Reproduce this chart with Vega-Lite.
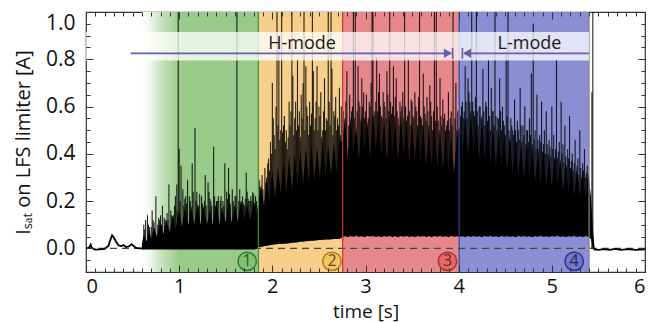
{
  "$schema": "https://vega.github.io/schema/vega-lite/v6.json",
  "width": 559,
  "height": 260,
  "autosize": {"type": "none"},
  "padding": {"left": 86, "top": 12, "right": 5, "bottom": 50},
  "background": "white",
  "config": {
    "view": {"stroke": "#333333", "strokeWidth": 1.2},
    "font": "Open Sans",
    "axis": {"grid": false, "labelColor": "#111111", "titleColor": "#111111", "tickColor": "#333333", "labelFont": "Open Sans", "titleFont": "Open Sans"}
  },
  "datasets": {
    "zones": [
      {"z": "1", "a": 0.6, "b": 1.85},
      {"z": "2", "a": 1.85, "b": 2.75},
      {"z": "3", "a": 2.75, "b": 4.0},
      {"z": "4", "a": 4.0, "b": 5.4}
    ],
    "bounds": [
      {"t": 1.85, "k": "1"},
      {"t": 2.755, "k": "3"},
      {"t": 4.005, "k": "4"},
      {"t": 5.4, "k": "5"}
    ],
    "core": [
      {"t": 0.60, "lo": -0.005, "hi": 0.02}, {"t": 0.62, "lo": -0.005, "hi": 0.06}, {"t": 0.65, "lo": -0.005, "hi": 0.03}, {"t": 0.68, "lo": -0.005, "hi": 0.08},
      {"t": 0.70, "lo": -0.005, "hi": 0.04}, {"t": 0.73, "lo": -0.005, "hi": 0.09}, {"t": 0.76, "lo": -0.005, "hi": 0.05}, {"t": 0.80, "lo": -0.005, "hi": 0.11},
      {"t": 0.83, "lo": -0.005, "hi": 0.06}, {"t": 0.86, "lo": -0.005, "hi": 0.12}, {"t": 0.90, "lo": -0.005, "hi": 0.07}, {"t": 0.93, "lo": -0.005, "hi": 0.14},
      {"t": 0.96, "lo": -0.005, "hi": 0.08}, {"t": 1.00, "lo": -0.005, "hi": 0.16}, {"t": 1.03, "lo": -0.005, "hi": 0.09}, {"t": 1.06, "lo": -0.005, "hi": 0.17},
      {"t": 1.10, "lo": -0.005, "hi": 0.10}, {"t": 1.13, "lo": -0.005, "hi": 0.18}, {"t": 1.16, "lo": -0.005, "hi": 0.10}, {"t": 1.20, "lo": -0.005, "hi": 0.19},
      {"t": 1.23, "lo": -0.005, "hi": 0.10}, {"t": 1.26, "lo": -0.005, "hi": 0.18}, {"t": 1.30, "lo": -0.005, "hi": 0.10}, {"t": 1.33, "lo": -0.005, "hi": 0.17},
      {"t": 1.36, "lo": -0.005, "hi": 0.10}, {"t": 1.40, "lo": -0.005, "hi": 0.19}, {"t": 1.43, "lo": -0.005, "hi": 0.10}, {"t": 1.46, "lo": -0.005, "hi": 0.17},
      {"t": 1.50, "lo": -0.005, "hi": 0.11}, {"t": 1.53, "lo": -0.005, "hi": 0.19}, {"t": 1.56, "lo": -0.005, "hi": 0.11}, {"t": 1.60, "lo": -0.005, "hi": 0.18},
      {"t": 1.63, "lo": -0.005, "hi": 0.11}, {"t": 1.66, "lo": -0.005, "hi": 0.20}, {"t": 1.70, "lo": -0.005, "hi": 0.12}, {"t": 1.73, "lo": -0.005, "hi": 0.19},
      {"t": 1.76, "lo": -0.005, "hi": 0.12}, {"t": 1.80, "lo": -0.005, "hi": 0.20}, {"t": 1.83, "lo": -0.003, "hi": 0.14},
      {"t": 1.85, "lo": 0.005, "hi": 0.20}, {"t": 1.88, "lo": 0.007, "hi": 0.27}, {"t": 1.91, "lo": 0.009, "hi": 0.18}, {"t": 1.94, "lo": 0.011, "hi": 0.30},
      {"t": 1.97, "lo": 0.013, "hi": 0.20}, {"t": 2.00, "lo": 0.015, "hi": 0.33}, {"t": 2.03, "lo": 0.017, "hi": 0.21}, {"t": 2.06, "lo": 0.018, "hi": 0.35},
      {"t": 2.09, "lo": 0.019, "hi": 0.23}, {"t": 2.12, "lo": 0.020, "hi": 0.37}, {"t": 2.15, "lo": 0.021, "hi": 0.24}, {"t": 2.18, "lo": 0.022, "hi": 0.39},
      {"t": 2.21, "lo": 0.024, "hi": 0.25}, {"t": 2.24, "lo": 0.025, "hi": 0.40}, {"t": 2.27, "lo": 0.026, "hi": 0.26}, {"t": 2.30, "lo": 0.028, "hi": 0.42},
      {"t": 2.33, "lo": 0.029, "hi": 0.27}, {"t": 2.36, "lo": 0.030, "hi": 0.43}, {"t": 2.39, "lo": 0.031, "hi": 0.28}, {"t": 2.42, "lo": 0.032, "hi": 0.44},
      {"t": 2.45, "lo": 0.033, "hi": 0.29}, {"t": 2.48, "lo": 0.034, "hi": 0.43}, {"t": 2.51, "lo": 0.035, "hi": 0.30}, {"t": 2.54, "lo": 0.036, "hi": 0.45},
      {"t": 2.57, "lo": 0.037, "hi": 0.30}, {"t": 2.60, "lo": 0.038, "hi": 0.44}, {"t": 2.63, "lo": 0.039, "hi": 0.31}, {"t": 2.66, "lo": 0.040, "hi": 0.45},
      {"t": 2.69, "lo": 0.040, "hi": 0.32}, {"t": 2.72, "lo": 0.041, "hi": 0.46},
      {"t": 2.75, "lo": 0.048, "hi": 0.45}, {"t": 2.78, "lo": 0.052, "hi": 0.55}, {"t": 2.81, "lo": 0.047, "hi": 0.38}, {"t": 2.84, "lo": 0.053, "hi": 0.56},
      {"t": 2.87, "lo": 0.049, "hi": 0.40}, {"t": 2.90, "lo": 0.054, "hi": 0.52}, {"t": 2.93, "lo": 0.048, "hi": 0.37}, {"t": 2.96, "lo": 0.052, "hi": 0.57},
      {"t": 2.99, "lo": 0.047, "hi": 0.41}, {"t": 3.02, "lo": 0.053, "hi": 0.54}, {"t": 3.05, "lo": 0.050, "hi": 0.38}, {"t": 3.08, "lo": 0.055, "hi": 0.58},
      {"t": 3.11, "lo": 0.048, "hi": 0.42}, {"t": 3.14, "lo": 0.052, "hi": 0.55}, {"t": 3.17, "lo": 0.047, "hi": 0.39}, {"t": 3.20, "lo": 0.053, "hi": 0.54},
      {"t": 3.23, "lo": 0.049, "hi": 0.37}, {"t": 3.26, "lo": 0.054, "hi": 0.57}, {"t": 3.29, "lo": 0.048, "hi": 0.40}, {"t": 3.32, "lo": 0.052, "hi": 0.53},
      {"t": 3.35, "lo": 0.047, "hi": 0.37}, {"t": 3.38, "lo": 0.053, "hi": 0.56}, {"t": 3.41, "lo": 0.049, "hi": 0.39}, {"t": 3.44, "lo": 0.054, "hi": 0.53},
      {"t": 3.47, "lo": 0.048, "hi": 0.36}, {"t": 3.50, "lo": 0.052, "hi": 0.54}, {"t": 3.53, "lo": 0.047, "hi": 0.38}, {"t": 3.56, "lo": 0.053, "hi": 0.52},
      {"t": 3.59, "lo": 0.049, "hi": 0.36}, {"t": 3.62, "lo": 0.054, "hi": 0.53}, {"t": 3.65, "lo": 0.048, "hi": 0.35}, {"t": 3.68, "lo": 0.052, "hi": 0.51},
      {"t": 3.71, "lo": 0.047, "hi": 0.35}, {"t": 3.74, "lo": 0.053, "hi": 0.52}, {"t": 3.77, "lo": 0.049, "hi": 0.34}, {"t": 3.80, "lo": 0.054, "hi": 0.50},
      {"t": 3.83, "lo": 0.048, "hi": 0.33}, {"t": 3.86, "lo": 0.052, "hi": 0.49}, {"t": 3.89, "lo": 0.047, "hi": 0.33}, {"t": 3.92, "lo": 0.053, "hi": 0.48},
      {"t": 3.95, "lo": 0.049, "hi": 0.32}, {"t": 3.98, "lo": 0.052, "hi": 0.47},
      {"t": 4.01, "lo": 0.048, "hi": 0.52}, {"t": 4.04, "lo": 0.052, "hi": 0.38}, {"t": 4.07, "lo": 0.047, "hi": 0.56}, {"t": 4.10, "lo": 0.053, "hi": 0.39},
      {"t": 4.13, "lo": 0.049, "hi": 0.57}, {"t": 4.16, "lo": 0.054, "hi": 0.40}, {"t": 4.19, "lo": 0.048, "hi": 0.54}, {"t": 4.22, "lo": 0.052, "hi": 0.37},
      {"t": 4.25, "lo": 0.047, "hi": 0.55}, {"t": 4.28, "lo": 0.053, "hi": 0.38}, {"t": 4.31, "lo": 0.049, "hi": 0.53}, {"t": 4.34, "lo": 0.054, "hi": 0.36},
      {"t": 4.37, "lo": 0.048, "hi": 0.52}, {"t": 4.40, "lo": 0.052, "hi": 0.35}, {"t": 4.43, "lo": 0.047, "hi": 0.50}, {"t": 4.46, "lo": 0.053, "hi": 0.34},
      {"t": 4.49, "lo": 0.049, "hi": 0.49}, {"t": 4.52, "lo": 0.054, "hi": 0.33}, {"t": 4.55, "lo": 0.048, "hi": 0.48}, {"t": 4.58, "lo": 0.052, "hi": 0.31},
      {"t": 4.61, "lo": 0.047, "hi": 0.47}, {"t": 4.64, "lo": 0.053, "hi": 0.30}, {"t": 4.67, "lo": 0.049, "hi": 0.45}, {"t": 4.70, "lo": 0.054, "hi": 0.29},
      {"t": 4.73, "lo": 0.048, "hi": 0.44}, {"t": 4.76, "lo": 0.052, "hi": 0.29}, {"t": 4.79, "lo": 0.047, "hi": 0.43}, {"t": 4.82, "lo": 0.053, "hi": 0.28},
      {"t": 4.85, "lo": 0.049, "hi": 0.42}, {"t": 4.88, "lo": 0.054, "hi": 0.27}, {"t": 4.91, "lo": 0.048, "hi": 0.41}, {"t": 4.94, "lo": 0.052, "hi": 0.26},
      {"t": 4.97, "lo": 0.047, "hi": 0.40}, {"t": 5.00, "lo": 0.053, "hi": 0.26}, {"t": 5.03, "lo": 0.049, "hi": 0.39}, {"t": 5.06, "lo": 0.054, "hi": 0.25},
      {"t": 5.09, "lo": 0.048, "hi": 0.38}, {"t": 5.12, "lo": 0.052, "hi": 0.24}, {"t": 5.15, "lo": 0.047, "hi": 0.37}, {"t": 5.18, "lo": 0.053, "hi": 0.23},
      {"t": 5.21, "lo": 0.049, "hi": 0.35}, {"t": 5.24, "lo": 0.054, "hi": 0.22}, {"t": 5.27, "lo": 0.048, "hi": 0.34}, {"t": 5.30, "lo": 0.052, "hi": 0.22},
      {"t": 5.33, "lo": 0.047, "hi": 0.33}, {"t": 5.36, "lo": 0.053, "hi": 0.21}, {"t": 5.39, "lo": 0.049, "hi": 0.32}, {"t": 5.42, "lo": 0.040, "hi": 0.22},
      {"t": 5.44, "lo": 0.0, "hi": 0.08}, {"t": 5.46, "lo": -0.01, "hi": 0.0}
    ],
    "spikes": [
      {"t": 0.62, "lo": 0.0, "hi": 0.10}, {"t": 0.64, "lo": 0.0, "hi": 0.12}, {"t": 0.66, "lo": 0.0, "hi": 0.14}, {"t": 0.68, "lo": 0.0, "hi": 0.09},
      {"t": 0.71, "lo": 0.0, "hi": 0.16}, {"t": 0.73, "lo": 0.0, "hi": 0.11}, {"t": 0.75, "lo": 0.0, "hi": 0.22}, {"t": 0.78, "lo": 0.0, "hi": 0.13},
      {"t": 0.80, "lo": 0.0, "hi": 0.14}, {"t": 0.82, "lo": 0.0, "hi": 0.18}, {"t": 0.85, "lo": 0.0, "hi": 0.12}, {"t": 0.87, "lo": 0.0, "hi": 0.15},
      {"t": 0.89, "lo": 0.0, "hi": 0.27}, {"t": 0.91, "lo": 0.0, "hi": 0.16}, {"t": 0.94, "lo": 0.0, "hi": 0.14}, {"t": 0.96, "lo": 0.0, "hi": 0.22},
      {"t": 0.975, "lo": 0.0, "hi": 0.27}, {"t": 0.99, "lo": 0.0, "hi": 1.0}, {"t": 1.00, "lo": 0.0, "hi": 0.42}, {"t": 1.02, "lo": 0.0, "hi": 0.35},
      {"t": 1.04, "lo": 0.0, "hi": 0.25}, {"t": 1.06, "lo": 0.0, "hi": 0.21}, {"t": 1.09, "lo": 0.0, "hi": 0.29}, {"t": 1.11, "lo": 0.0, "hi": 0.22},
      {"t": 1.14, "lo": 0.0, "hi": 0.36}, {"t": 1.17, "lo": 0.0, "hi": 0.51}, {"t": 1.19, "lo": 0.0, "hi": 0.24}, {"t": 1.22, "lo": 0.0, "hi": 0.23},
      {"t": 1.25, "lo": 0.0, "hi": 0.19}, {"t": 1.28, "lo": 0.0, "hi": 0.31}, {"t": 1.31, "lo": 0.0, "hi": 0.28}, {"t": 1.33, "lo": 0.0, "hi": 0.21},
      {"t": 1.35, "lo": 0.0, "hi": 0.18}, {"t": 1.37, "lo": 0.0, "hi": 0.43}, {"t": 1.40, "lo": 0.0, "hi": 0.20}, {"t": 1.42, "lo": 0.0, "hi": 0.22},
      {"t": 1.44, "lo": 0.0, "hi": 0.20}, {"t": 1.46, "lo": 0.0, "hi": 0.17}, {"t": 1.49, "lo": 0.0, "hi": 0.36}, {"t": 1.51, "lo": 0.0, "hi": 0.24},
      {"t": 1.53, "lo": 0.0, "hi": 0.34}, {"t": 1.55, "lo": 0.0, "hi": 0.19}, {"t": 1.57, "lo": 0.0, "hi": 0.25}, {"t": 1.60, "lo": 0.0, "hi": 0.22},
      {"t": 1.62, "lo": 0.0, "hi": 1.0}, {"t": 1.65, "lo": 0.0, "hi": 0.25}, {"t": 1.67, "lo": 0.0, "hi": 0.20}, {"t": 1.70, "lo": 0.0, "hi": 0.18},
      {"t": 1.72, "lo": 0.0, "hi": 0.32}, {"t": 1.74, "lo": 0.0, "hi": 0.21}, {"t": 1.76, "lo": 0.0, "hi": 0.20}, {"t": 1.79, "lo": 0.0, "hi": 0.24},
      {"t": 1.82, "lo": 0.0, "hi": 0.22},
      {"t": 0.63, "lo": 0.0, "hi": 0.08}, {"t": 0.67, "lo": 0.0, "hi": 0.10}, {"t": 0.70, "lo": 0.0, "hi": 0.09}, {"t": 0.72, "lo": 0.0, "hi": 0.12},
      {"t": 0.77, "lo": 0.0, "hi": 0.10}, {"t": 0.79, "lo": 0.0, "hi": 0.12}, {"t": 0.81, "lo": 0.0, "hi": 0.10}, {"t": 0.84, "lo": 0.0, "hi": 0.13},
      {"t": 0.88, "lo": 0.0, "hi": 0.12}, {"t": 0.92, "lo": 0.0, "hi": 0.14}, {"t": 0.95, "lo": 0.0, "hi": 0.18}, {"t": 0.98, "lo": 0.0, "hi": 0.16},
      {"t": 1.01, "lo": 0.0, "hi": 0.20}, {"t": 1.05, "lo": 0.0, "hi": 0.18}, {"t": 1.07, "lo": 0.0, "hi": 0.22}, {"t": 1.08, "lo": 0.0, "hi": 0.19},
      {"t": 1.12, "lo": 0.0, "hi": 0.20}, {"t": 1.15, "lo": 0.0, "hi": 0.24}, {"t": 1.18, "lo": 0.0, "hi": 0.20}, {"t": 1.21, "lo": 0.0, "hi": 0.18},
      {"t": 1.24, "lo": 0.0, "hi": 0.22}, {"t": 1.27, "lo": 0.0, "hi": 0.20}, {"t": 1.29, "lo": 0.0, "hi": 0.18}, {"t": 1.32, "lo": 0.0, "hi": 0.24},
      {"t": 1.34, "lo": 0.0, "hi": 0.20}, {"t": 1.38, "lo": 0.0, "hi": 0.22}, {"t": 1.39, "lo": 0.0, "hi": 0.18}, {"t": 1.41, "lo": 0.0, "hi": 0.20},
      {"t": 1.45, "lo": 0.0, "hi": 0.22}, {"t": 1.47, "lo": 0.0, "hi": 0.20}, {"t": 1.48, "lo": 0.0, "hi": 0.18}, {"t": 1.52, "lo": 0.0, "hi": 0.21},
      {"t": 1.54, "lo": 0.0, "hi": 0.23}, {"t": 1.58, "lo": 0.0, "hi": 0.20}, {"t": 1.59, "lo": 0.0, "hi": 0.18}, {"t": 1.61, "lo": 0.0, "hi": 0.22},
      {"t": 1.64, "lo": 0.0, "hi": 0.20}, {"t": 1.68, "lo": 0.0, "hi": 0.22}, {"t": 1.69, "lo": 0.0, "hi": 0.19}, {"t": 1.71, "lo": 0.0, "hi": 0.21},
      {"t": 1.73, "lo": 0.0, "hi": 0.24}, {"t": 1.75, "lo": 0.0, "hi": 0.20}, {"t": 1.77, "lo": 0.0, "hi": 0.22}, {"t": 1.78, "lo": 0.0, "hi": 0.20},
      {"t": 1.80, "lo": 0.0, "hi": 0.23}, {"t": 1.81, "lo": 0.0, "hi": 0.19}, {"t": 1.83, "lo": 0.0, "hi": 0.20},
      {"t": 1.86, "lo": 0.006, "hi": 0.29}, {"t": 1.88, "lo": 0.007, "hi": 0.22}, {"t": 1.90, "lo": 0.008, "hi": 0.25}, {"t": 1.92, "lo": 0.01, "hi": 0.34},
      {"t": 1.94, "lo": 0.011, "hi": 0.30}, {"t": 1.96, "lo": 0.012, "hi": 0.38}, {"t": 1.98, "lo": 0.014, "hi": 0.45}, {"t": 2.00, "lo": 0.015, "hi": 0.70},
      {"t": 2.02, "lo": 0.016, "hi": 0.48}, {"t": 2.04, "lo": 0.017, "hi": 0.60}, {"t": 2.05, "lo": 0.017, "hi": 1.0}, {"t": 2.07, "lo": 0.018, "hi": 0.86},
      {"t": 2.09, "lo": 0.019, "hi": 0.50}, {"t": 2.10, "lo": 0.019, "hi": 1.0}, {"t": 2.12, "lo": 0.02, "hi": 0.52}, {"t": 2.14, "lo": 0.021, "hi": 0.45},
      {"t": 2.16, "lo": 0.021, "hi": 0.42}, {"t": 2.18, "lo": 0.022, "hi": 0.62}, {"t": 2.21, "lo": 0.024, "hi": 1.0}, {"t": 2.22, "lo": 0.024, "hi": 0.73},
      {"t": 2.24, "lo": 0.025, "hi": 0.55}, {"t": 2.26, "lo": 0.026, "hi": 0.50}, {"t": 2.27, "lo": 0.026, "hi": 0.80}, {"t": 2.29, "lo": 0.027, "hi": 0.58},
      {"t": 2.31, "lo": 0.028, "hi": 0.65}, {"t": 2.33, "lo": 0.029, "hi": 0.70}, {"t": 2.34, "lo": 0.029, "hi": 1.0}, {"t": 2.36, "lo": 0.03, "hi": 0.77},
      {"t": 2.38, "lo": 0.031, "hi": 0.56}, {"t": 2.40, "lo": 0.031, "hi": 0.62}, {"t": 2.43, "lo": 0.032, "hi": 1.0}, {"t": 2.44, "lo": 0.033, "hi": 0.75},
      {"t": 2.46, "lo": 0.033, "hi": 0.55}, {"t": 2.48, "lo": 0.034, "hi": 0.77}, {"t": 2.50, "lo": 0.035, "hi": 0.60}, {"t": 2.52, "lo": 0.035, "hi": 0.66},
      {"t": 2.54, "lo": 0.036, "hi": 0.50}, {"t": 2.56, "lo": 0.037, "hi": 0.72}, {"t": 2.58, "lo": 0.037, "hi": 0.55}, {"t": 2.60, "lo": 0.038, "hi": 1.0},
      {"t": 2.61, "lo": 0.038, "hi": 0.62}, {"t": 2.63, "lo": 0.039, "hi": 1.0}, {"t": 2.64, "lo": 0.039, "hi": 0.76}, {"t": 2.66, "lo": 0.04, "hi": 0.58},
      {"t": 2.68, "lo": 0.04, "hi": 0.64}, {"t": 2.70, "lo": 0.04, "hi": 0.55}, {"t": 2.72, "lo": 0.041, "hi": 0.68}, {"t": 2.74, "lo": 0.042, "hi": 0.60},
      {"t": 1.87, "lo": 0.1, "hi": 0.26}, {"t": 1.89, "lo": 0.1, "hi": 0.31}, {"t": 1.93, "lo": 0.1, "hi": 0.28}, {"t": 1.95, "lo": 0.1, "hi": 0.36},
      {"t": 1.97, "lo": 0.1, "hi": 0.33}, {"t": 1.99, "lo": 0.1, "hi": 0.40}, {"t": 2.01, "lo": 0.1, "hi": 0.55}, {"t": 2.03, "lo": 0.1, "hi": 0.42},
      {"t": 2.06, "lo": 0.1, "hi": 0.52}, {"t": 2.08, "lo": 0.1, "hi": 0.46}, {"t": 2.11, "lo": 0.1, "hi": 0.49}, {"t": 2.13, "lo": 0.1, "hi": 0.56},
      {"t": 2.15, "lo": 0.1, "hi": 0.50}, {"t": 2.17, "lo": 0.1, "hi": 0.47}, {"t": 2.19, "lo": 0.1, "hi": 0.52}, {"t": 2.20, "lo": 0.1, "hi": 0.58},
      {"t": 2.23, "lo": 0.1, "hi": 0.48}, {"t": 2.25, "lo": 0.1, "hi": 0.62}, {"t": 2.28, "lo": 0.1, "hi": 0.52}, {"t": 2.30, "lo": 0.1, "hi": 0.47},
      {"t": 2.32, "lo": 0.1, "hi": 0.55}, {"t": 2.35, "lo": 0.1, "hi": 0.50}, {"t": 2.37, "lo": 0.1, "hi": 0.60}, {"t": 2.39, "lo": 0.1, "hi": 0.48},
      {"t": 2.41, "lo": 0.1, "hi": 0.52}, {"t": 2.42, "lo": 0.1, "hi": 0.57}, {"t": 2.45, "lo": 0.1, "hi": 0.50}, {"t": 2.47, "lo": 0.1, "hi": 0.62},
      {"t": 2.49, "lo": 0.1, "hi": 0.50}, {"t": 2.51, "lo": 0.1, "hi": 0.56}, {"t": 2.53, "lo": 0.1, "hi": 0.47}, {"t": 2.55, "lo": 0.1, "hi": 0.58},
      {"t": 2.57, "lo": 0.1, "hi": 0.50}, {"t": 2.59, "lo": 0.1, "hi": 0.54}, {"t": 2.62, "lo": 0.1, "hi": 0.52}, {"t": 2.65, "lo": 0.1, "hi": 0.48},
      {"t": 2.67, "lo": 0.1, "hi": 0.56}, {"t": 2.69, "lo": 0.1, "hi": 0.50}, {"t": 2.71, "lo": 0.1, "hi": 0.52}, {"t": 2.73, "lo": 0.1, "hi": 0.48},
      {"t": 2.78, "lo": 0.05, "hi": 0.55}, {"t": 2.80, "lo": 0.05, "hi": 0.75}, {"t": 2.83, "lo": 0.05, "hi": 0.65}, {"t": 2.85, "lo": 0.05, "hi": 0.58},
      {"t": 2.87, "lo": 0.05, "hi": 1.0}, {"t": 2.89, "lo": 0.05, "hi": 1.0}, {"t": 2.92, "lo": 0.05, "hi": 0.77}, {"t": 2.94, "lo": 0.05, "hi": 0.60},
      {"t": 2.96, "lo": 0.05, "hi": 0.72}, {"t": 2.99, "lo": 0.05, "hi": 0.55}, {"t": 3.01, "lo": 0.05, "hi": 0.65}, {"t": 3.04, "lo": 0.05, "hi": 0.62},
      {"t": 3.07, "lo": 0.05, "hi": 1.0}, {"t": 3.08, "lo": 0.05, "hi": 1.0}, {"t": 3.10, "lo": 0.05, "hi": 0.58}, {"t": 3.12, "lo": 0.05, "hi": 0.81},
      {"t": 3.15, "lo": 0.05, "hi": 0.74}, {"t": 3.17, "lo": 0.05, "hi": 0.56}, {"t": 3.19, "lo": 0.05, "hi": 0.66}, {"t": 3.21, "lo": 0.05, "hi": 0.60},
      {"t": 3.23, "lo": 0.05, "hi": 0.75}, {"t": 3.26, "lo": 0.05, "hi": 1.0}, {"t": 3.28, "lo": 0.05, "hi": 0.57}, {"t": 3.30, "lo": 0.05, "hi": 0.77},
      {"t": 3.33, "lo": 0.05, "hi": 0.72}, {"t": 3.35, "lo": 0.05, "hi": 0.55}, {"t": 3.37, "lo": 0.05, "hi": 0.62}, {"t": 3.39, "lo": 0.05, "hi": 0.60},
      {"t": 3.42, "lo": 0.05, "hi": 1.0}, {"t": 3.44, "lo": 0.05, "hi": 0.54}, {"t": 3.46, "lo": 0.05, "hi": 0.80}, {"t": 3.49, "lo": 0.05, "hi": 0.63},
      {"t": 3.51, "lo": 0.05, "hi": 0.56}, {"t": 3.53, "lo": 0.05, "hi": 0.66}, {"t": 3.55, "lo": 0.05, "hi": 0.58}, {"t": 3.58, "lo": 0.05, "hi": 1.0},
      {"t": 3.60, "lo": 0.05, "hi": 0.55}, {"t": 3.62, "lo": 0.05, "hi": 0.74}, {"t": 3.64, "lo": 0.05, "hi": 0.57}, {"t": 3.66, "lo": 0.05, "hi": 0.64},
      {"t": 3.69, "lo": 0.05, "hi": 0.69}, {"t": 3.71, "lo": 0.05, "hi": 0.56}, {"t": 3.74, "lo": 0.05, "hi": 1.0}, {"t": 3.76, "lo": 0.05, "hi": 1.0},
      {"t": 3.78, "lo": 0.05, "hi": 0.54}, {"t": 3.80, "lo": 0.05, "hi": 0.72}, {"t": 3.83, "lo": 0.05, "hi": 0.63}, {"t": 3.85, "lo": 0.05, "hi": 0.57},
      {"t": 3.87, "lo": 0.05, "hi": 0.52}, {"t": 3.89, "lo": 0.05, "hi": 0.66}, {"t": 3.91, "lo": 0.05, "hi": 0.55}, {"t": 3.94, "lo": 0.05, "hi": 1.0},
      {"t": 3.97, "lo": 0.05, "hi": 0.70}, {"t": 3.99, "lo": 0.05, "hi": 0.58},
      {"t": 2.76, "lo": 0.1, "hi": 0.58}, {"t": 2.79, "lo": 0.1, "hi": 0.62}, {"t": 2.82, "lo": 0.1, "hi": 0.52}, {"t": 2.86, "lo": 0.1, "hi": 0.60},
      {"t": 2.88, "lo": 0.1, "hi": 0.55}, {"t": 2.91, "lo": 0.1, "hi": 0.58}, {"t": 2.93, "lo": 0.1, "hi": 0.62}, {"t": 2.95, "lo": 0.1, "hi": 0.54},
      {"t": 2.97, "lo": 0.1, "hi": 0.60}, {"t": 2.98, "lo": 0.1, "hi": 0.66}, {"t": 3.00, "lo": 0.1, "hi": 0.58}, {"t": 3.03, "lo": 0.1, "hi": 0.55},
      {"t": 3.05, "lo": 0.1, "hi": 0.60}, {"t": 3.06, "lo": 0.1, "hi": 0.70}, {"t": 3.09, "lo": 0.1, "hi": 0.56}, {"t": 3.11, "lo": 0.1, "hi": 0.62},
      {"t": 3.13, "lo": 0.1, "hi": 0.58}, {"t": 3.14, "lo": 0.1, "hi": 0.66}, {"t": 3.16, "lo": 0.1, "hi": 0.60}, {"t": 3.18, "lo": 0.1, "hi": 0.55},
      {"t": 3.20, "lo": 0.1, "hi": 0.62}, {"t": 3.22, "lo": 0.1, "hi": 0.55}, {"t": 3.24, "lo": 0.1, "hi": 0.65}, {"t": 3.25, "lo": 0.1, "hi": 0.58},
      {"t": 3.27, "lo": 0.1, "hi": 0.62}, {"t": 3.29, "lo": 0.1, "hi": 0.60}, {"t": 3.31, "lo": 0.1, "hi": 0.56}, {"t": 3.32, "lo": 0.1, "hi": 0.64},
      {"t": 3.34, "lo": 0.1, "hi": 0.58}, {"t": 3.36, "lo": 0.1, "hi": 0.52}, {"t": 3.38, "lo": 0.1, "hi": 0.58}, {"t": 3.40, "lo": 0.1, "hi": 0.66},
      {"t": 3.41, "lo": 0.1, "hi": 0.55}, {"t": 3.43, "lo": 0.1, "hi": 0.60}, {"t": 3.45, "lo": 0.1, "hi": 0.56}, {"t": 3.47, "lo": 0.1, "hi": 0.58},
      {"t": 3.48, "lo": 0.1, "hi": 0.52}, {"t": 3.50, "lo": 0.1, "hi": 0.62}, {"t": 3.52, "lo": 0.1, "hi": 0.55}, {"t": 3.54, "lo": 0.1, "hi": 0.60},
      {"t": 3.56, "lo": 0.1, "hi": 0.52}, {"t": 3.57, "lo": 0.1, "hi": 0.64}, {"t": 3.59, "lo": 0.1, "hi": 0.56}, {"t": 3.61, "lo": 0.1, "hi": 0.52},
      {"t": 3.63, "lo": 0.1, "hi": 0.60}, {"t": 3.65, "lo": 0.1, "hi": 0.54}, {"t": 3.67, "lo": 0.1, "hi": 0.58}, {"t": 3.68, "lo": 0.1, "hi": 0.52},
      {"t": 3.70, "lo": 0.1, "hi": 0.62}, {"t": 3.72, "lo": 0.1, "hi": 0.50}, {"t": 3.73, "lo": 0.1, "hi": 0.58}, {"t": 3.75, "lo": 0.1, "hi": 0.54},
      {"t": 3.77, "lo": 0.1, "hi": 0.60}, {"t": 3.79, "lo": 0.1, "hi": 0.50}, {"t": 3.81, "lo": 0.1, "hi": 0.56}, {"t": 3.82, "lo": 0.1, "hi": 0.52},
      {"t": 3.84, "lo": 0.1, "hi": 0.55}, {"t": 3.86, "lo": 0.1, "hi": 0.50}, {"t": 3.88, "lo": 0.1, "hi": 0.54}, {"t": 3.90, "lo": 0.1, "hi": 0.50},
      {"t": 3.92, "lo": 0.1, "hi": 0.58}, {"t": 3.93, "lo": 0.1, "hi": 0.52}, {"t": 3.96, "lo": 0.1, "hi": 0.55}, {"t": 3.98, "lo": 0.1, "hi": 0.50},
      {"t": 4.03, "lo": 0.05, "hi": 0.60}, {"t": 4.05, "lo": 0.05, "hi": 0.55}, {"t": 4.07, "lo": 0.05, "hi": 0.77}, {"t": 4.10, "lo": 0.05, "hi": 0.72},
      {"t": 4.12, "lo": 0.05, "hi": 0.62}, {"t": 4.14, "lo": 0.05, "hi": 1.0}, {"t": 4.16, "lo": 0.05, "hi": 0.58}, {"t": 4.19, "lo": 0.05, "hi": 1.0},
      {"t": 4.22, "lo": 0.05, "hi": 0.60}, {"t": 4.24, "lo": 0.05, "hi": 0.55}, {"t": 4.26, "lo": 0.05, "hi": 0.76}, {"t": 4.29, "lo": 0.05, "hi": 0.62},
      {"t": 4.32, "lo": 0.05, "hi": 0.80}, {"t": 4.35, "lo": 0.05, "hi": 0.68}, {"t": 4.37, "lo": 0.05, "hi": 0.58}, {"t": 4.39, "lo": 0.05, "hi": 1.0},
      {"t": 4.42, "lo": 0.05, "hi": 0.55}, {"t": 4.44, "lo": 0.05, "hi": 0.72}, {"t": 4.47, "lo": 0.05, "hi": 0.60}, {"t": 4.49, "lo": 0.05, "hi": 0.52},
      {"t": 4.51, "lo": 0.05, "hi": 0.83}, {"t": 4.53, "lo": 0.05, "hi": 1.0}, {"t": 4.56, "lo": 0.05, "hi": 0.55}, {"t": 4.58, "lo": 0.05, "hi": 0.50},
      {"t": 4.60, "lo": 0.05, "hi": 0.63}, {"t": 4.63, "lo": 0.05, "hi": 0.54}, {"t": 4.66, "lo": 0.05, "hi": 0.68}, {"t": 4.69, "lo": 0.05, "hi": 0.52},
      {"t": 4.71, "lo": 0.05, "hi": 0.60}, {"t": 4.74, "lo": 0.05, "hi": 0.50}, {"t": 4.76, "lo": 0.05, "hi": 0.55}, {"t": 4.78, "lo": 0.05, "hi": 0.74},
      {"t": 4.80, "lo": 0.05, "hi": 0.95}, {"t": 4.82, "lo": 0.05, "hi": 0.50}, {"t": 4.84, "lo": 0.05, "hi": 0.65}, {"t": 4.87, "lo": 0.05, "hi": 0.48},
      {"t": 4.89, "lo": 0.05, "hi": 0.62}, {"t": 4.92, "lo": 0.05, "hi": 0.50}, {"t": 4.94, "lo": 0.05, "hi": 0.58}, {"t": 4.97, "lo": 0.05, "hi": 0.46},
      {"t": 5.00, "lo": 0.05, "hi": 0.60}, {"t": 5.02, "lo": 0.05, "hi": 0.48}, {"t": 5.05, "lo": 0.05, "hi": 0.80}, {"t": 5.08, "lo": 0.05, "hi": 0.45},
      {"t": 5.10, "lo": 0.05, "hi": 0.62}, {"t": 5.12, "lo": 0.05, "hi": 0.44}, {"t": 5.14, "lo": 0.05, "hi": 0.52}, {"t": 5.17, "lo": 0.05, "hi": 0.42},
      {"t": 5.19, "lo": 0.05, "hi": 0.56}, {"t": 5.22, "lo": 0.05, "hi": 0.40}, {"t": 5.25, "lo": 0.05, "hi": 0.46}, {"t": 5.28, "lo": 0.05, "hi": 0.38},
      {"t": 5.30, "lo": 0.05, "hi": 0.50}, {"t": 5.33, "lo": 0.05, "hi": 0.36}, {"t": 5.35, "lo": 0.05, "hi": 0.42}, {"t": 5.38, "lo": 0.05, "hi": 0.35},
      {"t": 4.02, "lo": 0.1, "hi": 0.56}, {"t": 4.04, "lo": 0.1, "hi": 0.62}, {"t": 4.06, "lo": 0.1, "hi": 0.58}, {"t": 4.08, "lo": 0.1, "hi": 0.62},
      {"t": 4.09, "lo": 0.1, "hi": 0.55}, {"t": 4.11, "lo": 0.1, "hi": 0.66}, {"t": 4.13, "lo": 0.1, "hi": 0.58}, {"t": 4.15, "lo": 0.1, "hi": 0.62},
      {"t": 4.17, "lo": 0.1, "hi": 0.56}, {"t": 4.18, "lo": 0.1, "hi": 0.64}, {"t": 4.20, "lo": 0.1, "hi": 0.58}, {"t": 4.21, "lo": 0.1, "hi": 0.52},
      {"t": 4.23, "lo": 0.1, "hi": 0.60}, {"t": 4.25, "lo": 0.1, "hi": 0.56}, {"t": 4.27, "lo": 0.1, "hi": 0.58}, {"t": 4.28, "lo": 0.1, "hi": 0.52},
      {"t": 4.30, "lo": 0.1, "hi": 0.60}, {"t": 4.31, "lo": 0.1, "hi": 0.54}, {"t": 4.33, "lo": 0.1, "hi": 0.56}, {"t": 4.34, "lo": 0.1, "hi": 0.50},
      {"t": 4.36, "lo": 0.1, "hi": 0.58}, {"t": 4.38, "lo": 0.1, "hi": 0.52}, {"t": 4.40, "lo": 0.1, "hi": 0.56}, {"t": 4.41, "lo": 0.1, "hi": 0.50},
      {"t": 4.43, "lo": 0.1, "hi": 0.55}, {"t": 4.45, "lo": 0.1, "hi": 0.58}, {"t": 4.46, "lo": 0.1, "hi": 0.50}, {"t": 4.48, "lo": 0.1, "hi": 0.54},
      {"t": 4.50, "lo": 0.1, "hi": 0.48}, {"t": 4.52, "lo": 0.1, "hi": 0.56}, {"t": 4.54, "lo": 0.1, "hi": 0.50}, {"t": 4.55, "lo": 0.1, "hi": 0.46},
      {"t": 4.57, "lo": 0.1, "hi": 0.52}, {"t": 4.59, "lo": 0.1, "hi": 0.48}, {"t": 4.61, "lo": 0.1, "hi": 0.50}, {"t": 4.62, "lo": 0.1, "hi": 0.45},
      {"t": 4.64, "lo": 0.1, "hi": 0.50}, {"t": 4.65, "lo": 0.1, "hi": 0.46}, {"t": 4.67, "lo": 0.1, "hi": 0.52}, {"t": 4.68, "lo": 0.1, "hi": 0.45},
      {"t": 4.70, "lo": 0.1, "hi": 0.48}, {"t": 4.72, "lo": 0.1, "hi": 0.44}, {"t": 4.73, "lo": 0.1, "hi": 0.50}, {"t": 4.75, "lo": 0.1, "hi": 0.45},
      {"t": 4.77, "lo": 0.1, "hi": 0.48}, {"t": 4.79, "lo": 0.1, "hi": 0.44}, {"t": 4.81, "lo": 0.1, "hi": 0.46}, {"t": 4.83, "lo": 0.1, "hi": 0.42},
      {"t": 4.85, "lo": 0.1, "hi": 0.46}, {"t": 4.86, "lo": 0.1, "hi": 0.42}, {"t": 4.88, "lo": 0.1, "hi": 0.45}, {"t": 4.90, "lo": 0.1, "hi": 0.41},
      {"t": 4.91, "lo": 0.1, "hi": 0.44}, {"t": 4.93, "lo": 0.1, "hi": 0.40}, {"t": 4.95, "lo": 0.1, "hi": 0.44}, {"t": 4.96, "lo": 0.1, "hi": 0.40},
      {"t": 4.98, "lo": 0.1, "hi": 0.43}, {"t": 4.99, "lo": 0.1, "hi": 0.39}, {"t": 5.01, "lo": 0.1, "hi": 0.42}, {"t": 5.03, "lo": 0.1, "hi": 0.38},
      {"t": 5.04, "lo": 0.1, "hi": 0.42}, {"t": 5.06, "lo": 0.1, "hi": 0.38}, {"t": 5.07, "lo": 0.1, "hi": 0.41}, {"t": 5.09, "lo": 0.1, "hi": 0.36},
      {"t": 5.11, "lo": 0.1, "hi": 0.40}, {"t": 5.13, "lo": 0.1, "hi": 0.36}, {"t": 5.15, "lo": 0.1, "hi": 0.39}, {"t": 5.16, "lo": 0.1, "hi": 0.35},
      {"t": 5.18, "lo": 0.1, "hi": 0.38}, {"t": 5.20, "lo": 0.1, "hi": 0.34}, {"t": 5.21, "lo": 0.1, "hi": 0.37}, {"t": 5.23, "lo": 0.1, "hi": 0.33},
      {"t": 5.24, "lo": 0.1, "hi": 0.36}, {"t": 5.26, "lo": 0.1, "hi": 0.32}, {"t": 5.27, "lo": 0.1, "hi": 0.35}, {"t": 5.29, "lo": 0.1, "hi": 0.31},
      {"t": 5.31, "lo": 0.1, "hi": 0.34}, {"t": 5.32, "lo": 0.1, "hi": 0.30}, {"t": 5.34, "lo": 0.1, "hi": 0.33}, {"t": 5.36, "lo": 0.1, "hi": 0.30},
      {"t": 5.37, "lo": 0.1, "hi": 0.32}, {"t": 5.39, "lo": 0.1, "hi": 0.30},
      {"t": 5.43, "lo": 0.0, "hi": 0.66}, {"t": 5.44, "lo": 0.0, "hi": 1.0}
    ],
    "trace": [
      {"t": 0.00, "v": 0.0, "seg": "a"}, {"t": 0.03, "v": 0.002, "seg": "a"}, {"t": 0.05, "v": 0.016, "seg": "a"}, {"t": 0.06, "v": 0.002, "seg": "a"},
      {"t": 0.10, "v": -0.005, "seg": "a"}, {"t": 0.15, "v": -0.004, "seg": "a"}, {"t": 0.20, "v": -0.002, "seg": "a"}, {"t": 0.24, "v": 0.01, "seg": "a"},
      {"t": 0.265, "v": 0.04, "seg": "a"}, {"t": 0.28, "v": 0.055, "seg": "a"}, {"t": 0.30, "v": 0.045, "seg": "a"}, {"t": 0.32, "v": 0.03, "seg": "a"},
      {"t": 0.35, "v": 0.012, "seg": "a"}, {"t": 0.38, "v": 0.01, "seg": "a"}, {"t": 0.40, "v": 0.014, "seg": "a"}, {"t": 0.43, "v": 0.006, "seg": "a"},
      {"t": 0.46, "v": 0.008, "seg": "a"}, {"t": 0.49, "v": 0.018, "seg": "a"}, {"t": 0.51, "v": 0.01, "seg": "a"}, {"t": 0.54, "v": 0.002, "seg": "a"},
      {"t": 0.57, "v": 0.0, "seg": "a"}, {"t": 0.62, "v": 0.0, "seg": "a"},
      {"t": 5.45, "v": -0.004, "seg": "b"}, {"t": 5.50, "v": -0.006, "seg": "b"}, {"t": 5.56, "v": -0.003, "seg": "b"}, {"t": 5.62, "v": -0.006, "seg": "b"},
      {"t": 5.68, "v": -0.002, "seg": "b"}, {"t": 5.74, "v": -0.006, "seg": "b"}, {"t": 5.82, "v": -0.003, "seg": "b"}, {"t": 5.90, "v": -0.006, "seg": "b"},
      {"t": 6.00, "v": -0.004, "seg": "b"}
    ],
    "band": [{"a": 0.0, "b": 5.4, "lo": 0.795, "hi": 0.915}],
    "arrows": [{"a": 0.48, "b": 3.92, "y": 0.825}, {"a": 4.06, "b": 5.4, "y": 0.825}],
    "bars": [{"t": 3.935, "lo": 0.802, "hi": 0.848}, {"t": 4.04, "lo": 0.802, "hi": 0.848}],
    "heads": [{"t": 3.885, "y": 0.825, "dir": "right"}, {"t": 4.09, "y": 0.825, "dir": "left"}],
    "modes": [{"t": 2.32, "y": 0.865, "label": "H-mode"}, {"t": 4.76, "y": 0.865, "label": "L-mode"}],
    "nums": [
      {"t": 1.73, "y": -0.055, "n": "1"},
      {"t": 2.64, "y": -0.055, "n": "2"},
      {"t": 3.88, "y": -0.055, "n": "3"},
      {"t": 5.24, "y": -0.055, "n": "4"}
    ]
  },
  "resolve": {
    "axis": {"x": "independent", "y": "independent"},
    "scale": {"color": "independent", "fill": "independent", "stroke": "independent", "shape": "independent"}
  },
  "layer": [
    {
      "data": {"name": "zones"},
      "transform": [{"filter": "datum.z == '1'"}],
      "mark": {"type": "rect", "fill": {"gradient": "linear", "x1": 0, "y1": 0, "x2": 1, "y2": 0, "stops": [
        {"offset": 0, "color": "#ffffff"},
        {"offset": 0.06, "color": "#f3f9f1"},
        {"offset": 0.18, "color": "#c4e0ba"},
        {"offset": 0.32, "color": "#9acb8b"},
        {"offset": 1, "color": "#98c98a"}
      ]}},
      "encoding": {
        "x": {"field": "a", "type": "quantitative", "axis": null},
        "x2": {"field": "b"}
      }
    },
    {
      "data": {"name": "zones"},
      "transform": [{"filter": "datum.z != '1'"}],
      "mark": {"type": "rect", "opacity": 1},
      "encoding": {
        "x": {"field": "a", "type": "quantitative", "axis": null},
        "x2": {"field": "b"},
        "color": {"field": "z", "type": "nominal", "legend": null, "scale": {"domain": ["2", "3", "4"], "range": ["#f7cf8a", "#e6878b", "#8a8ed2"]}}
      }
    },
    {
      "data": {"name": "band"},
      "mark": {"type": "rule", "color": "#444444", "strokeDash": [7, 5], "strokeWidth": 1.3},
      "encoding": {
        "y": {"datum": 0, "type": "quantitative", "axis": null}
      }
    },
    {
      "data": {"name": "core"},
      "mark": {"type": "area", "color": "#000000", "opacity": 1},
      "encoding": {
        "x": {"field": "t", "type": "quantitative", "scale": {"domain": [0, 6], "nice": false, "zero": false},
          "axis": {"orient": "bottom", "values": [0, 1, 2, 3, 4, 5, 6], "format": "d", "ticks": false, "domain": false, "labelFontSize": 20, "labelPadding": 4, "labelOverlap": false, "title": "time [s]", "titleFontSize": 19, "titleFontWeight": "normal", "titlePadding": 6}},
        "y": {"field": "hi", "type": "quantitative", "scale": {"domain": [-0.1, 1.0], "nice": false, "zero": false},
          "axis": {"orient": "left", "values": [0, 0.2, 0.4, 0.6, 0.8, 1.0], "format": ".1f", "ticks": false, "domain": false, "labelFontSize": 21, "labelPadding": 11, "labelFlush": true, "labelOverlap": false, "title": "Iₛₐₜ on LFS limiter [A]", "titleFontSize": 20, "titleFontWeight": "normal", "titlePadding": 12}},
        "y2": {"field": "lo"}
      }
    },
    {
      "data": {"name": "spikes"},
      "mark": {"type": "rule", "color": "#000000", "strokeWidth": 1.1, "opacity": 0.85},
      "encoding": {
        "x": {"field": "t", "type": "quantitative",
          "axis": {"orient": "bottom", "values": [0, 1, 2, 3, 4, 5, 6], "labels": false, "domain": false, "tickSize": -7, "tickColor": "#333333", "title": null, "zindex": 2}},
        "y": {"field": "lo", "type": "quantitative",
          "axis": {"orient": "left", "values": [0, 0.2, 0.4, 0.6, 0.8, 1.0], "labels": false, "domain": false, "tickSize": -7, "tickColor": "#333333", "title": null, "zindex": 2}},
        "y2": {"field": "hi"}
      }
    },
    {
      "data": {"name": "trace"},
      "mark": {"type": "line", "color": "#000000", "strokeWidth": 1.8},
      "encoding": {
        "x": {"field": "t", "type": "quantitative",
          "axis": {"orient": "bottom", "values": [0.1,0.2,0.3,0.4,0.5,0.6,0.7,0.8,0.9,1.1,1.2,1.3,1.4,1.5,1.6,1.7,1.8,1.9,2.1,2.2,2.3,2.4,2.5,2.6,2.7,2.8,2.9,3.1,3.2,3.3,3.4,3.5,3.6,3.7,3.8,3.9,4.1,4.2,4.3,4.4,4.5,4.6,4.7,4.8,4.9,5.1,5.2,5.3,5.4,5.5,5.6,5.7,5.8,5.9], "labels": false, "domain": false, "tickSize": -4, "tickColor": "#333333", "title": null, "zindex": 2}},
        "y": {"field": "v", "type": "quantitative",
          "axis": {"orient": "left", "values": [-0.05,0.05,0.1,0.15,0.25,0.3,0.35,0.45,0.5,0.55,0.65,0.7,0.75,0.85,0.9,0.95], "labels": false, "domain": false, "tickSize": -4, "tickColor": "#333333", "title": null, "zindex": 2}},
        "detail": {"field": "seg", "type": "nominal"}
      }
    },
    {
      "data": {"name": "bounds"},
      "mark": {"type": "rule", "strokeWidth": 1.2},
      "encoding": {
        "x": {"field": "t", "type": "quantitative", "axis": null},
        "color": {"field": "k", "type": "nominal", "legend": null, "scale": {"domain": ["1", "3", "4", "5"], "range": ["#3f8f3a", "#d0342c", "#3a3e9e", "#888888"]}}
      }
    },
    {
      "data": {"name": "band"},
      "mark": {"type": "rect", "color": "#ffffff", "opacity": 0.75},
      "encoding": {
        "x": {"field": "a", "type": "quantitative", "axis": null},
        "x2": {"field": "b"},
        "y": {"field": "lo", "type": "quantitative", "axis": null},
        "y2": {"field": "hi"}
      }
    },
    {
      "data": {"name": "arrows"},
      "mark": {"type": "rule", "color": "#6a5cae", "strokeWidth": 1.6},
      "encoding": {
        "x": {"field": "a", "type": "quantitative",
          "axis": {"orient": "top", "values": [0, 1, 2, 3, 4, 5, 6], "labels": false, "domain": false, "tickSize": -7, "tickColor": "#333333", "title": null, "zindex": 2}},
        "x2": {"field": "b"},
        "y": {"field": "y", "type": "quantitative",
          "axis": {"orient": "right", "values": [0, 0.2, 0.4, 0.6, 0.8, 1.0], "labels": false, "domain": false, "tickSize": -7, "tickColor": "#333333", "title": null, "zindex": 2}}
      }
    },
    {
      "data": {"name": "bars"},
      "mark": {"type": "rule", "color": "#6a5cae", "strokeWidth": 1.6},
      "encoding": {
        "x": {"field": "t", "type": "quantitative", "axis": null},
        "y": {"field": "lo", "type": "quantitative", "axis": null},
        "y2": {"field": "hi"}
      }
    },
    {
      "data": {"name": "heads"},
      "mark": {"type": "point", "filled": true, "color": "#6a5cae", "opacity": 1, "size": 90},
      "encoding": {
        "x": {"field": "t", "type": "quantitative", "axis": null},
        "y": {"field": "y", "type": "quantitative", "axis": null},
        "shape": {"field": "dir", "type": "nominal", "legend": null, "scale": {"domain": ["right", "left"], "range": ["triangle-right", "triangle-left"]}}
      }
    },
    {
      "data": {"name": "modes"},
      "mark": {"type": "text", "fontSize": 18, "color": "#1a1a1a", "baseline": "middle", "align": "center", "font": "Open Sans"},
      "encoding": {
        "x": {"field": "t", "type": "quantitative", "axis": null},
        "y": {"field": "y", "type": "quantitative", "axis": null},
        "text": {"field": "label"}
      }
    },
    {
      "data": {"name": "nums"},
      "mark": {"type": "point", "shape": "circle", "filled": true, "size": 340, "strokeWidth": 1.5, "opacity": 1},
      "encoding": {
        "x": {"field": "t", "type": "quantitative",
          "axis": {"orient": "top", "values": [0.1,0.2,0.3,0.4,0.5,0.6,0.7,0.8,0.9,1.1,1.2,1.3,1.4,1.5,1.6,1.7,1.8,1.9,2.1,2.2,2.3,2.4,2.5,2.6,2.7,2.8,2.9,3.1,3.2,3.3,3.4,3.5,3.6,3.7,3.8,3.9,4.1,4.2,4.3,4.4,4.5,4.6,4.7,4.8,4.9,5.1,5.2,5.3,5.4,5.5,5.6,5.7,5.8,5.9], "labels": false, "domain": false, "tickSize": -4, "tickColor": "#333333", "title": null, "zindex": 2}},
        "y": {"field": "y", "type": "quantitative",
          "axis": {"orient": "right", "values": [-0.05,0.05,0.1,0.15,0.25,0.3,0.35,0.45,0.5,0.55,0.65,0.7,0.75,0.85,0.9,0.95], "labels": false, "domain": false, "tickSize": -4, "tickColor": "#333333", "title": null, "zindex": 2}},
        "fill": {"field": "n", "type": "nominal", "legend": null, "scale": {"domain": ["1", "2", "3", "4"], "range": ["#82c073", "#f3c56a", "#e26a6a", "#7478c6"]}},
        "stroke": {"field": "n", "type": "nominal", "legend": null, "scale": {"domain": ["1", "2", "3", "4"], "range": ["#2e7a2e", "#b07d14", "#a82f2f", "#2e3190"]}}
      }
    },
    {
      "data": {"name": "nums"},
      "mark": {"type": "text", "fontSize": 16, "baseline": "middle", "align": "center", "font": "Open Sans"},
      "encoding": {
        "x": {"field": "t", "type": "quantitative", "axis": null},
        "y": {"field": "y", "type": "quantitative", "axis": null},
        "text": {"field": "n"},
        "color": {"field": "n", "type": "nominal", "legend": null, "scale": {"domain": ["1", "2", "3", "4"], "range": ["#235f23", "#6d4c00", "#7a1b1b", "#1f2270"]}}
      }
    }
  ]
}
